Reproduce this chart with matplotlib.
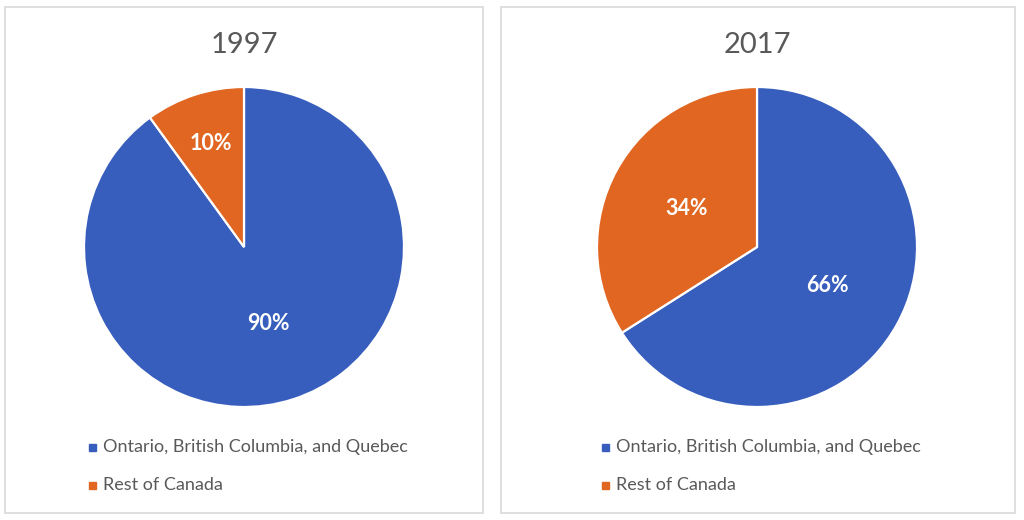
import numpy as np
import matplotlib.pyplot as plt
import matplotlib.patches as patches

years = ["1997", "2017"]
regions = ["Ontario, British Columbia, and Quebec", "Rest of Canada"]
shares = [[90, 10], [66, 34]]

colors = ["#375EBC", "#E06621"]
plt.rcParams['font.family'] = ['Lato', 'DejaVu Sans']

W, H = 1024, 520
fig = plt.figure(figsize=(W / 100, H / 100), dpi=100)

def fx(px):
    return px / W

def fy(py):
    return 1 - py / H

# panel frames (x0, x1, pie centre x) in pixels
panels = [(5, 483, 244), (501, 1015, 757)]
label_dist = [[0.5, 0.68], [0.5, 0.5]]

for i, (x0, x1, cx) in enumerate(panels):
    r = patches.Rectangle((fx(x0), fy(513)), fx(x1 - x0), (513 - 7) / H,
                          transform=fig.transFigure, fill=False,
                          ec="#D9D9D9", lw=1.2)
    fig.patches.append(r)

    rad = 160
    ax = fig.add_axes([fx(cx - rad), fy(247 + rad), fx(2 * rad), 2 * rad / H])
    wedges, _ = ax.pie(shares[i], colors=colors, startangle=90, counterclock=False,
                       wedgeprops=dict(edgecolor="white", linewidth=1.6))
    ax.set_xlim(-1, 1)
    ax.set_ylim(-1, 1)
    ax.set_aspect("equal")
    for w, v, d in zip(wedges, shares[i], label_dist[i]):
        ang = np.deg2rad((w.theta1 + w.theta2) / 2)
        ax.text(d * np.cos(ang), d * np.sin(ang), f"{v}%", color="white",
                fontsize=15.5, fontweight="bold", ha="center", va="center")

    fig.text(fx(cx), fy(45), years[i], fontsize=21, color="#595959",
             ha="center", va="center")

    for j, name in enumerate(regions):
        yy = fy(447 + j * 38)
        fig.patches.append(patches.Rectangle((fx(cx - 155), yy - 3.5 / H), fx(7), 7 / H,
                                             transform=fig.transFigure, color=colors[j]))
        fig.text(fx(cx - 141), yy, name, fontsize=13, color="#595959",
                 ha="left", va="center")

fig.savefig("out.png", dpi=100)
